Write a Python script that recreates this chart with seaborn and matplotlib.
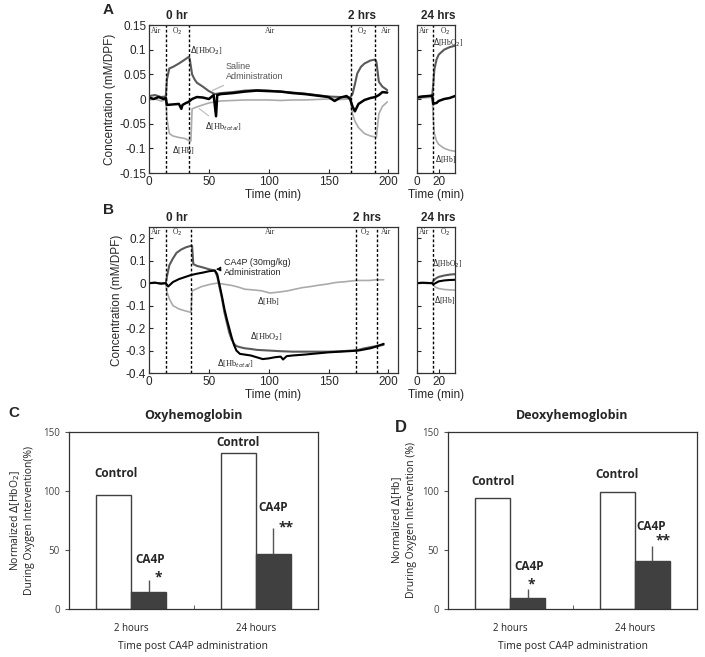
import numpy as np
import pandas as pd
import matplotlib
matplotlib.use("Agg")
import matplotlib.pyplot as plt
import seaborn as sns

# ---------------- data ----------------
# panel A (saline), main recording, time in min
a_t_hbt = [0, 4, 8, 12, 14, 15, 20, 25, 27, 28, 31, 33, 36, 40, 45, 50, 54, 56, 57, 60, 70, 80, 90, 100,
           110, 120, 130, 140, 150, 155, 160, 165, 168, 170, 172, 175, 180, 185, 189, 192, 195, 199]
a_hbt = [0.003, 0.0, 0.004, 0.0, 0.002, -0.012, -0.011, -0.01, -0.02, -0.012, -0.008, -0.006, 0.0, 0.004,
         0.003, 0.0, 0.008, -0.035, 0.008, 0.01, 0.012, 0.015, 0.017, 0.016, 0.015, 0.012, 0.01, 0.007, 0.004,
         -0.004, 0.003, 0.006, 0.0, -0.015, -0.025, -0.01, -0.002, 0.002, 0.004, 0.008, 0.014, 0.013]
a_t_hbo2 = [0, 5, 10, 14, 15, 17, 20, 25, 30, 33, 34, 36, 38, 40, 45, 50, 55, 60, 70, 80, 90, 100, 110, 120,
            130, 140, 150, 160, 168, 170, 172, 174, 177, 180, 185, 189, 190, 192, 195, 199]
a_hbo2 = [0.006, 0.008, 0.004, 0.005, 0.04, 0.062, 0.065, 0.072, 0.08, 0.085, 0.082, 0.05, 0.04, 0.033, 0.025,
          0.016, 0.01, 0.012, 0.014, 0.017, 0.018, 0.017, 0.015, 0.013, 0.011, 0.008, 0.005, 0.004, 0.003, 0.01,
          0.03, 0.052, 0.065, 0.072, 0.078, 0.08, 0.075, 0.035, 0.025, 0.018]
a_t_hb = [0, 5, 10, 14, 15, 17, 20, 25, 30, 34, 35, 36, 40, 45, 50, 55, 60, 70, 80, 90, 100, 110, 120, 130,
          140, 150, 160, 168, 170, 172, 175, 180, 185, 189, 190, 192, 195, 199]
a_hb = [-0.002, 0.0, -0.004, -0.002, -0.04, -0.07, -0.075, -0.078, -0.08, -0.085, -0.085, -0.02, -0.016, -0.012,
        -0.008, -0.006, -0.004, -0.003, -0.002, -0.002, -0.002, -0.003, -0.002, -0.002, -0.001, 0.0, -0.001, 0.0,
        -0.03, -0.045, -0.058, -0.07, -0.075, -0.077, -0.077, -0.03, -0.015, -0.006]

# panel A, 24 hrs recording
a24_t = [0, 5, 10, 14, 15, 16, 18, 20, 25, 30, 35]
a24_hbt = [0.003, 0.005, 0.006, 0.007, -0.01, -0.009, -0.008, -0.004, 0.0, 0.002, 0.006]
a24_hbo2 = [0.004, 0.005, 0.006, 0.006, 0.03, 0.06, 0.08, 0.09, 0.1, 0.105, 0.108]
a24_hb = [0.001, 0.002, 0.003, 0.003, -0.04, -0.07, -0.085, -0.092, -0.1, -0.104, -0.106]

# panel B (CA4P), main recording
b_t_hbt = [0, 5, 10, 14, 16, 18, 20, 25, 30, 35, 40, 45, 50, 55, 57, 59, 61, 63, 65, 67, 69, 71, 73, 76, 80,
           85, 90, 95, 100, 105, 110, 112, 115, 120, 130, 140, 150, 160, 170, 175, 180, 185, 190, 196]
b_hbt = [0.0, 0.002, -0.002, 0.0, -0.015, -0.005, 0.005, 0.018, 0.027, 0.036, 0.042, 0.047, 0.053, 0.056,
         0.04, -0.01, -0.06, -0.115, -0.16, -0.2, -0.24, -0.275, -0.3, -0.315, -0.318, -0.322, -0.33, -0.338,
         -0.335, -0.33, -0.327, -0.34, -0.325, -0.322, -0.318, -0.313, -0.308, -0.305, -0.302, -0.3, -0.295,
         -0.29, -0.282, -0.27]
b_t_hbo2 = [0, 5, 10, 14, 15, 17, 20, 23, 27, 31, 35, 36, 37, 40, 45, 50, 55, 57, 59, 61, 63, 65, 67, 69, 71,
            73, 76, 80, 85, 90, 100, 110, 120, 130, 140, 150, 160, 170, 175, 180, 185, 190, 196]
b_hbo2 = [0.0, 0.002, -0.002, 0.0, 0.03, 0.08, 0.11, 0.135, 0.15, 0.16, 0.166, 0.166, 0.085, 0.077, 0.07, 0.062,
          0.056, 0.03, -0.02, -0.07, -0.13, -0.175, -0.22, -0.25, -0.27, -0.28, -0.285, -0.29, -0.293, -0.297,
          -0.3, -0.303, -0.305, -0.305, -0.305, -0.305, -0.303, -0.3, -0.297, -0.29, -0.285, -0.28, -0.275]
b_t_hb = [0, 5, 10, 14, 15, 17, 20, 25, 30, 35, 36, 39, 44, 52, 57, 63, 69, 75, 80, 87, 94, 101, 108, 115, 121,
          128, 135, 142, 149, 156, 163, 173, 184, 190, 196]
b_hb = [0.0, 0.002, -0.002, 0.0, -0.04, -0.07, -0.1, -0.115, -0.123, -0.13, -0.035, -0.027, -0.015, -0.004, 0.0,
        -0.005, -0.01, -0.018, -0.027, -0.03, -0.034, -0.044, -0.04, -0.035, -0.028, -0.02, -0.015, -0.009,
        -0.004, 0.003, 0.006, 0.012, 0.012, 0.015, 0.015]

# panel B, 24 hrs recording
b24_t = [0, 5, 10, 14, 15, 17, 20, 25, 30, 35]
b24_hbt = [0.0, 0.002, 0.001, 0.0, -0.005, 0.0, 0.008, 0.012, 0.014, 0.015]
b24_hbo2 = [0.0, 0.001, 0.0, 0.0, 0.01, 0.02, 0.028, 0.034, 0.038, 0.04]
b24_hb = [0.0, 0.001, 0.0, 0.0, -0.01, -0.018, -0.024, -0.028, -0.03, -0.031]

# gas switch times (min)
a_switch = [14, 33, 169, 189]
b_switch = [14, 35.5, 173, 190.5]
switch_24 = [14.5]

# panels C / D
times = ["2 hours", "24 hours"]
groups = ["Control", "CA4P"]
oxy_control = [97, 132]
oxy_ca4p = [14, 47]
oxy_err = [11, 22]
deoxy_control = [94, 99]
deoxy_ca4p = [9, 41]
deoxy_err = [8, 12]

a_yticks = [-0.15, -0.1, -0.05, 0, 0.05, 0.1, 0.15]
a_ylabels = ["-0.15", "-0.1", "-0.05", "0", "0.05", "0.1", "0.15"]
b_yticks = [-0.4, -0.3, -0.2, -0.1, 0, 0.1, 0.2]
b_ylabels = ["-0.4", "-0.3", "-0.2", "-0.1", "0", "0.1", "0.2"]

# ---------------- style ----------------
sns.set_style("ticks")
plt.rcParams['font.family'] = ['Liberation Sans', 'DejaVu Sans']
plt.rcParams['axes.linewidth'] = 0.9

C_HBT = "black"
C_HBO2 = "#5a5a5a"
C_HB = "#ababab"
SERIF = ['Liberation Serif', 'DejaVu Serif']

W, H = 705, 657
fig = plt.figure(figsize=(W / 100, H / 100), dpi=100)


def px_axes(x0, y0, x1, y1):
    return fig.add_axes([x0 / W, 1 - y1 / H, (x1 - x0) / W, (y1 - y0) / H])


def draw_traces(ax, traces):
    for t, v, c, lw in traces:
        sns.lineplot(x=t, y=v, ax=ax, color=c, linewidth=lw, estimator=None, sort=False)


def style_trace_axes(ax, xlim, ylim):
    ax.set_xlim(*xlim)
    ax.set_ylim(*ylim)
    ax.tick_params(labelsize=8.5, length=3, direction='in', pad=2)
    ax.set_xlabel("Time (min)", fontsize=8.5, labelpad=1)
    for s in ax.spines.values():
        s.set_color("#333333")


# ---------------- panel A ----------------
axA = px_axes(149, 25, 398, 173)
draw_traces(axA, [(a_t_hb, a_hb, C_HB, 1.2), (a_t_hbo2, a_hbo2, C_HBO2, 1.5), (a_t_hbt, a_hbt, C_HBT, 1.8)])
for s in a_switch:
    axA.axvline(s, color="black", ls=(0, (2, 1.5)), lw=1)
style_trace_axes(axA, (0, 208), (-0.15, 0.15))
axA.set_xticks([0, 50, 100, 150, 200])
axA.set_yticks(a_yticks, a_ylabels)
axA.set_ylabel("Concentration (mM/DPF)", fontsize=8.5, labelpad=2)
for x, lab in [(6, "Air"), (23.5, "O$_2$"), (101, "Air"), (178, "O$_2$"), (198, "Air")]:
    axA.text(x, 0.137, lab, fontsize=5.5, ha='center', va='center', family=SERIF, color="#333")
axA.text(23, 1.04, "0 hr", transform=axA.get_xaxis_transform(), ha='center', fontsize=8.5, fontweight='bold')
axA.text(178, 1.04, "2 hrs", transform=axA.get_xaxis_transform(), ha='center', fontsize=8.5, fontweight='bold')
axA.text(34.5, 0.097, r"$\Delta$[HbO$_2$]", fontsize=6, family=SERIF, va='center')
axA.text(19, -0.104, r"$\Delta$[Hb]", fontsize=6, family=SERIF, va='center')
axA.annotate(r"$\Delta$[Hb$_{total}$]", xy=(40, -0.016), xytext=(47, -0.057), fontsize=6, family=SERIF,
             va='center', arrowprops=dict(arrowstyle='-', color="#bbbbbb", lw=0.8))
axA.annotate("Saline\nAdministration", xy=(51, 0.015), xytext=(64, 0.056), fontsize=6.5, color="#555555",
             va='center', arrowprops=dict(arrowstyle='-', color="#c0c0c0", lw=1))
fig.text(103 / W, 1 - 10 / H, "A", fontsize=11, fontweight='bold', va='center')

axA2 = px_axes(417, 25, 455, 173)
draw_traces(axA2, [(a24_t, a24_hb, C_HB, 1.2), (a24_t, a24_hbo2, C_HBO2, 1.5), (a24_t, a24_hbt, C_HBT, 1.8)])
for s in switch_24:
    axA2.axvline(s, color="black", ls=(0, (2, 1.5)), lw=1)
style_trace_axes(axA2, (0, 35), (-0.15, 0.15))
axA2.set_xticks([0, 20])
axA2.set_yticks(a_yticks, [])
axA2.text(6.5, 0.137, "Air", fontsize=5.5, ha='center', va='center', family=SERIF, color="#333")
axA2.text(26, 0.137, "O$_2$", fontsize=5.5, ha='center', va='center', family=SERIF, color="#333")
axA2.text(15, 0.115, r"$\Delta$[HbO$_2$]", fontsize=5.5, family=SERIF, va='center')
axA2.text(17, -0.122, r"$\Delta$[Hb]", fontsize=5.5, family=SERIF, va='center')
axA2.text(0.55, 1.04, "24 hrs", transform=axA2.transAxes, ha='center', fontsize=8.5, fontweight='bold')

# ---------------- panel B ----------------
axB = px_axes(149, 227, 398, 373)
draw_traces(axB, [(b_t_hb, b_hb, C_HB, 1.2), (b_t_hbo2, b_hbo2, C_HBO2, 1.5), (b_t_hbt, b_hbt, C_HBT, 1.5)])
for s in b_switch:
    axB.axvline(s, color="black", ls=(0, (2, 1.5)), lw=1)
style_trace_axes(axB, (0, 208), (-0.4, 0.25))
axB.set_xticks([0, 50, 100, 150, 200])
axB.set_yticks(b_yticks, b_ylabels)
axB.set_ylabel("Concentration (mM/DPF)", fontsize=8.5, labelpad=2)
for x, lab in [(6, "Air"), (24, "O$_2$"), (101, "Air"), (181, "O$_2$"), (198, "Air")]:
    axB.text(x, 0.226, lab, fontsize=5.5, ha='center', va='center', family=SERIF, color="#333")
axB.text(23, 1.04, "0 hr", transform=axB.get_xaxis_transform(), ha='center', fontsize=8.5, fontweight='bold')
axB.text(182, 1.04, "2 hrs", transform=axB.get_xaxis_transform(), ha='center', fontsize=8.5, fontweight='bold')
axB.annotate("CA4P (30mg/kg)\nAdministration", xy=(56, 0.062), xytext=(63, 0.07), fontsize=6.5,
             va='center', arrowprops=dict(arrowstyle='-|>', color="black", lw=0.6, mutation_scale=7))
axB.text(90, -0.078, r"$\Delta$[Hb]", fontsize=6, family=SERIF, va='center')
axB.text(84, -0.24, r"$\Delta$[HbO$_2$]", fontsize=6, family=SERIF, va='center')
axB.text(57, -0.357, r"$\Delta$[Hb$_{total}$]", fontsize=6, family=SERIF, va='center')
fig.text(103 / W, 1 - 210 / H, "B", fontsize=11, fontweight='bold', va='center')

axB2 = px_axes(417, 227, 455, 373)
draw_traces(axB2, [(b24_t, b24_hb, C_HB, 1.2), (b24_t, b24_hbo2, C_HBO2, 1.5), (b24_t, b24_hbt, C_HBT, 1.5)])
for s in switch_24:
    axB2.axvline(s, color="black", ls=(0, (2, 1.5)), lw=1)
style_trace_axes(axB2, (0, 35), (-0.4, 0.25))
axB2.set_xticks([0, 20])
axB2.set_yticks(b_yticks, [])
axB2.text(6.5, 0.226, "Air", fontsize=5.5, ha='center', va='center', family=SERIF, color="#333")
axB2.text(26, 0.226, "O$_2$", fontsize=5.5, ha='center', va='center', family=SERIF, color="#333")
axB2.text(14, 0.087, r"$\Delta$[HbO$_2$]", fontsize=5.5, family=SERIF, va='center')
axB2.text(16, -0.077, r"$\Delta$[Hb]", fontsize=5.5, family=SERIF, va='center')
axB2.text(0.55, 1.04, "24 hrs", transform=axB2.transAxes, ha='center', fontsize=8.5, fontweight='bold')

# ---------------- panels C / D ----------------
BAR_FONT = ['Open Sans', 'DejaVu Sans']


def bar_panel(ax, control, ca4p, err, title, ylabel, txt, ypad):
    df = pd.DataFrame({
        "time": times * 2,
        "group": [groups[0]] * 2 + [groups[1]] * 2,
        "value": control + ca4p,
    })
    sns.barplot(data=df, x="time", y="value", hue="group", order=times, hue_order=groups,
                palette={"Control": "white", "CA4P": "#404040"}, edgecolor="#404040", linewidth=1,
                width=0.56, errorbar=None, legend=False, saturation=1, ax=ax)
    dark = [p for p in ax.patches if p.get_height() > 0 and p.get_facecolor()[0] < 0.5]
    dark = sorted(dark, key=lambda p: p.get_x())
    xs = [p.get_x() + p.get_width() / 2 for p in dark]
    ax.errorbar(xs, ca4p, yerr=[[0, 0], err], fmt='none', ecolor="#555555", elinewidth=1, capsize=0)
    ax.set_xlim(-0.5, 1.5)
    ax.set_ylim(0, 150)
    ax.set_yticks([0, 50, 100, 150])
    ax.set_xlabel("Time post CA4P administration", fontsize=7.5, family=BAR_FONT, labelpad=5, color="#222")
    ax.set_ylabel(ylabel, fontsize=7.5, family=BAR_FONT, labelpad=ypad, color="#222")
    ax.set_title(title, fontsize=9, fontweight='bold', family=BAR_FONT, pad=9)
    ax.tick_params(axis='y', labelsize=7, length=3, colors="#555555", labelcolor="#444")
    ax.tick_params(axis='x', labelsize=7, length=0, pad=10, labelcolor="#222")
    for lab in ax.get_xticklabels() + ax.get_yticklabels():
        lab.set_family(BAR_FONT)
    ax.set_xticks([0.5], minor=True)
    ax.tick_params(axis='x', which='minor', length=3, direction='in', color="#444")
    for s in ax.spines.values():
        s.set_color("#333333")
    for x, y, s, fs in txt:
        ax.text(x, y, s, ha='center', va='center', fontsize=fs, fontweight='bold', family=BAR_FONT)


axC = px_axes(69, 432, 318, 609)
bar_panel(axC, oxy_control, oxy_ca4p, oxy_err, "Oxyhemoglobin",
          "Normalized $\\Delta$[HbO$_2$]\nDuring Oxygen Intervention(%)",
          [(-0.12, 115, "Control", 8.5), (0.86, 141, "Control", 8.5), (0.15, 42, "CA4P", 8.5),
           (0.22, 27, "*", 10), (1.14, 86, "CA4P", 8.5), (1.24, 69, "**", 10)], 6)
fig.text(8 / W, 1 - 413 / H, "C", fontsize=11, fontweight='bold', va='center')

axD = px_axes(448, 432, 697, 609)
bar_panel(axD, deoxy_control, deoxy_ca4p, deoxy_err, "Deoxyhemoglobin",
          "Normalized $\\Delta$[Hb]\nDruring Oxygen Intervention (%)",
          [(-0.14, 108, "Control", 8.5), (0.86, 114, "Control", 8.5), (0.155, 36, "CA4P", 8.5),
           (0.17, 21, "*", 10), (1.13, 70, "CA4P", 8.5), (1.23, 58, "**", 10)], 4)
fig.text(395 / W, 1 - 427 / H, "D", fontsize=12, fontweight='bold', va='center')

fig.savefig("out.png", dpi=100, facecolor="white")
